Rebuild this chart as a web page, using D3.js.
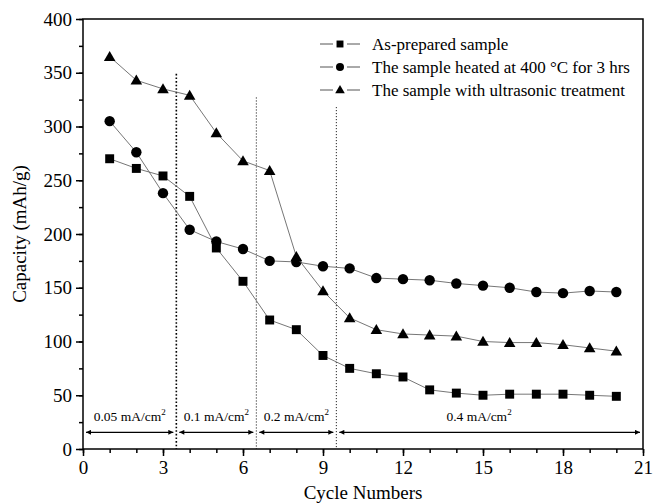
<!DOCTYPE html>
<html>
<head>
<meta charset="utf-8">
<script src="https://cdn.jsdelivr.net/npm/d3@7"></script>
<style>
  body { margin: 0; background: #fff; }
  text { font-family: "Liberation Serif", "Times New Roman", serif; fill: #000; }
</style>
</head>
<body>
<script>
// data
var cycles = [1,2,3,4,5,6,7,8,9,10,11,12,13,14,15,16,17,18,19,20];
var asPrepared = [270,261,254,235,187,156,120,111,87,75,70,67,55,52,50,51,51,51,50,49];
var heated = [305,276,238,204,193,186,175,174,170,168,159,158,157,154,152,150,146,145,147,146];
var ultrasonic = [365,343,335,329,294,268,259,179,147,122,111,107,106,105,100,99,99,97,94,91];
var seriesNames = ["As-prepared sample", "The sample heated at 400 \u00b0C for 3 hrs", "The sample with ultrasonic treatment"];
var xTicks = [0,3,6,9,12,15,18,21];
var yTicks = [0,50,100,150,200,250,300,350,400];
// current density regions
var dividers = [3.5, 6.5, 9.5];
var dividerTops = [349, 327, 318];
var regions = [[0,3.5],[3.5,6.5],[6.5,9.5],[9.5,21]];
var regionLabels = ["0.05 mA/cm", "0.1 mA/cm", "0.2 mA/cm", "0.4 mA/cm"];
var regionLabelX = [1.75, 5.0, 8.0, 14.85];

var width = 655, height = 503;
var margin = {top: 19, right: 12, bottom: 54, left: 83};
var serif = "'Liberation Serif', 'Times New Roman', serif";

var svg = d3.select("body").append("svg")
    .attr("width", width)
    .attr("height", height);

var x = d3.scaleLinear().domain([0,21]).range([margin.left, width - margin.right]);
var y = d3.scaleLinear().domain([0,400]).range([height - margin.bottom, margin.top]);

// frame
svg.append("rect")
    .attr("x", x(0)).attr("y", y(400))
    .attr("width", x(21) - x(0)).attr("height", y(0) - y(400))
    .attr("fill", "none").attr("stroke", "#000").attr("stroke-width", 1.5);

// minor ticks
svg.append("g")
    .attr("transform", `translate(0,${y(0)})`)
    .call(d3.axisBottom(x).tickValues(d3.range(0,22,1)).tickSize(4).tickFormat(""))
    .call(g => g.select(".domain").remove())
    .call(g => g.selectAll("line").attr("stroke-width", 1.5));
svg.append("g")
    .attr("transform", `translate(${x(0)},0)`)
    .call(d3.axisLeft(y).tickValues(d3.range(0,401,25)).tickSize(4).tickFormat(""))
    .call(g => g.select(".domain").remove())
    .call(g => g.selectAll("line").attr("stroke-width", 1.5));

// major axes
svg.append("g")
    .attr("transform", `translate(0,${y(0)})`)
    .call(d3.axisBottom(x).tickValues(xTicks).tickSize(7).tickPadding(5))
    .call(g => g.select(".domain").remove())
    .call(g => g.selectAll("line").attr("stroke-width", 1.5))
    .call(g => g.selectAll("text").style("font-size", "19px").style("font-family", serif));
svg.append("g")
    .attr("transform", `translate(${x(0)},0)`)
    .call(d3.axisLeft(y).tickValues(yTicks).tickSize(7).tickPadding(4))
    .call(g => g.select(".domain").remove())
    .call(g => g.selectAll("line").attr("stroke-width", 1.5))
    .call(g => g.selectAll("text").style("font-size", "19px").style("font-family", serif));

// axis titles
svg.append("text")
    .attr("x", (x(0) + x(21)) / 2)
    .attr("y", 499)
    .attr("text-anchor", "middle")
    .style("font-family", serif)
    .style("font-size", "19px")
    .text("Cycle Numbers");

svg.append("text")
    .attr("transform", `translate(26,${(y(0) + y(400)) / 2}) rotate(-90)`)
    .attr("text-anchor", "middle")
    .style("font-family", serif)
    .style("font-size", "19px")
    .text("Capacity (mAh/g)");

// dotted dividers
svg.selectAll(".divider")
    .data(dividers)
    .join("line")
    .attr("class", "divider")
    .attr("x1", d => x(d)).attr("x2", d => x(d))
    .attr("y1", (d, i) => y(dividerTops[i])).attr("y2", y(0))
    .attr("stroke", "#000")
    .attr("stroke-width", (d, i) => i == 0 ? 1.6 : 1)
    .attr("stroke-dasharray", (d, i) => i == 0 ? "1.6,2" : "1,2");

// arrow heads
var defs = svg.append("defs");
defs.append("marker")
    .attr("id", "arr")
    .attr("viewBox", "0 0 10 10")
    .attr("refX", 10).attr("refY", 5)
    .attr("markerWidth", 7).attr("markerHeight", 5)
    .attr("markerUnits", "userSpaceOnUse")
    .attr("orient", "auto-start-reverse")
    .append("path")
    .attr("d", "M0,0L10,5L0,10Z")
    .attr("fill", "#000");

var arrowY = y(15.5);
svg.selectAll(".span")
    .data(regions)
    .join("line")
    .attr("class", "span")
    .attr("x1", d => x(d[0]) + 3)
    .attr("x2", d => x(d[1]) - 3)
    .attr("y1", arrowY).attr("y2", arrowY)
    .attr("stroke", "#000").attr("stroke-width", 1.3)
    .attr("marker-start", "url(#arr)")
    .attr("marker-end", "url(#arr)");

var rl = svg.selectAll(".rlabel")
    .data(regionLabels)
    .join("text")
    .attr("class", "rlabel")
    .attr("x", (d, i) => x(regionLabelX[i]))
    .attr("y", y(26))
    .attr("text-anchor", "middle")
    .style("font-family", serif)
    .style("font-size", "13.5px");
rl.append("tspan").text(d => d);
rl.append("tspan").attr("dy", -6).style("font-size", "9px").text("2");

// series
var series = [asPrepared, heated, ultrasonic];
var shapes = [d3.symbolSquare, d3.symbolCircle, d3.symbolTriangle];
var sizes = [80, 85, 58];

var line = d3.line()
    .x((d, i) => x(cycles[i]))
    .y(d => y(d));

series.forEach(function(s, k) {
  svg.append("path")
      .datum(s)
      .attr("d", line)
      .attr("fill", "none")
      .attr("stroke", "#666")
      .attr("stroke-width", 0.9);

  svg.append("g")
    .selectAll("path")
    .data(s)
    .join("path")
      .attr("transform", (d, i) => `translate(${x(cycles[i])},${y(d) + (k == 2 ? 1 : 0)})`)
      .attr("d", d3.symbol().type(shapes[k]).size(sizes[k]))
      .attr("fill", "#000");
});

// legend
var legend = svg.append("g");
var legY = [44, 67, 90];
seriesNames.forEach(function(name, k) {
  var g = legend.append("g").attr("transform", `translate(320,${legY[k]})`);
  g.append("line").attr("x1", 0).attr("x2", 13).attr("y1", 0).attr("y2", 0)
      .attr("stroke", "#555").attr("stroke-width", 1);
  g.append("line").attr("x1", 27).attr("x2", 40).attr("y1", 0).attr("y2", 0)
      .attr("stroke", "#555").attr("stroke-width", 1);
  g.append("path")
      .attr("transform", "translate(20," + (k == 2 ? 0.5 : 0) + ")")
      .attr("d", d3.symbol().type(shapes[k]).size(k == 2 ? 40 : sizes[k] * 0.6))
      .attr("fill", "#000");
  g.append("text")
      .attr("x", 52).attr("y", 5.5)
      .style("font-family", serif)
      .style("font-size", "17px")
      .text(name);
});
</script>
</body>
</html>
